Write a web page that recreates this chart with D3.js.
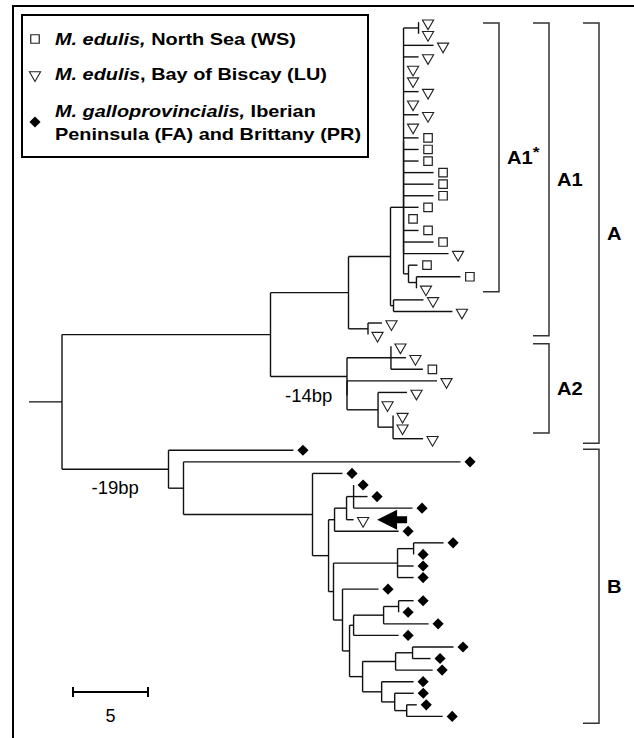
<!DOCTYPE html>
<html><head><meta charset="utf-8">
<script src="https://cdn.jsdelivr.net/npm/d3@7"></script>
<style>body{margin:0;background:#fff}svg{display:block}</style>
</head><body>
<svg id="chart" width="634" height="738"></svg>
<script>
// ---------------- DATA ----------------
// Tree topology with branch lengths (substitution units), split into named clades
const cladeA1star = "(((L1:0,L2:0):1,L3:2,L4:1,L5:0,L6:0,L7:1,L8:0,L9:1,L10:0,L11:1,L12:1,L13:1,L14:2,L15:2,L16:2,L17:1,L18:0,L19:1,L20:2,L21:3):0,(L22:0.6,(L23:2.93,L24:0):0.53):0.33)";
const cladeA1 = "((" + cladeA1star + ":0.87,(L25:2,L26:3.93):0.2):2.8,(L27:0.93,L28:0):1.3)";
const cladeA2 = "((L29:0,L30:1,L31:2.13):2.93,(L32:6,(L33:1.93,L34:0,(L35:0,L36:0,L37:2):1):2.07):0)A2";
const cladeA = "(" + cladeA1 + ":5.2," + cladeA2 + ":5.1)";
const subB1 = "(((L41:0,L42:0.93,L43:3.93):0.47,L44:0.47):0.8,L45:4.27)";
const subB2 = "(((L55:2.73,L56:1.2):1.13,L57:2.47):2.2,(L58:2.13,(L59:1.27,(L60:0.67,L61:2.4):0.8):0.87):1.27)";
const subB3 = "(((L46:2,L47:0):1.07,L48:1.07,L49:1.07):4.27,(L50:2.4,((((L51:1,L52:0):1,L53:3):2,L54:3):0.27," + subB2 + ":0.87):0.47):0.6)";
const cladeB = "(L38:8.33,(L39:18.47,(L40:2,(" + subB1 + ":0.4," + subB3 + ":0.33):1.07):8.6):1)B";
const treeNewick = "((" + cladeA + ":13.9," + cladeB + ":7.1):2.2)R;";

// group of each leaf, top to bottom
const leafGroups = [
  "LU","LU","LU","LU","LU","LU","LU","LU","LU","LU",
  "WS","WS","WS","WS","WS","WS","WS","WS","WS","WS",
  "LU","WS","WS","LU",
  "LU","LU","LU","LU","LU","LU","WS","LU","LU","LU","LU","LU","LU",
  "FA","FA","FA","FA","FA","FA","LU",
  "FA","FA","FA","FA","FA","FA","FA","FA","FA","FA","FA","FA","FA","FA","FA","FA","FA"
];
const legendGroups = ["WS","LU","FA"];
const legendSpecies = ["M. edulis,","M. edulis","M. galloprovincialis,"];
const legendRegions = [[" North Sea (WS)"],[", Bay of Biscay (LU)"],[" Iberian","Peninsula (FA) and Brittany (PR)"]];

// clade brackets: name, first leaf, last leaf (fractional leaf positions), nesting level
const cladeNames = ["A1","A1","A2","A","B"];
const cladeStars = [true,false,false,false,false];
const cladeFrom = [1.07,1.07,28.8,1.07,37.9];
const cladeTo = [24.3,28.1,36.5,37.4,61.6];
const cladeLevel = [0,1,1,2,2];

const branchLabelNodes = ["A2","B"];
const branchLabelTexts = ["-14bp","-19bp"];
const arrowLeaf = "L44";
const scaleBarValue = 5;

// ---------------- PARSE ----------------
function parseNewick(s){
  let i=0;
  function node(){
    const n={children:[]};
    if(s[i]==="("){
      i++;
      while(true){ n.children.push(node()); if(s[i]===","){i++;} else break; }
      i++; // ')'
    }
    let name="";
    while(i<s.length && !",():;".includes(s[i])) name+=s[i++];
    n.name=name;
    let len="";
    if(s[i]===":"){ i++; while(i<s.length && !",();".includes(s[i])) len+=s[i++]; }
    n.length=len?+len:0;
    return n;
  }
  return node();
}

const root = d3.hierarchy(parseNewick(treeNewick), d=>d.children.length?d.children:null);
root.eachBefore(n=>{ n.dist = n.parent ? n.parent.dist + n.data.length : 0; });
const leaves = root.leaves();

// ---------------- SCALES ----------------
const xScale = d3.scaleLinear().domain([0,30]).range([29,479]);
const yScale = d3.scaleLinear().domain([1,61]).range([22.2,716.4]);

leaves.forEach((l,i)=>{ l.idx=i+1; l.group=leafGroups[i]; l.y=yScale(i+1); });
root.eachAfter(n=>{
  n.x = xScale(n.dist);
  if(n.children){ n.y = (n.children[0].y + n.children[n.children.length-1].y)/2; }
});

const svg = d3.select("#chart");
const FONT = "'Liberation Sans', Arial, Helvetica, sans-serif";

// frame
svg.append("path").attr("d","M13,738V6H634").attr("fill","none").attr("stroke","#000").attr("stroke-width",2);

// ---------------- TREE ----------------
const g = svg.append("g").attr("fill","none").attr("stroke","#111").attr("stroke-width",1.4);
root.descendants().forEach(n=>{
  if(n.parent){
    g.append("path").attr("d",`M${n.parent.x},${n.y}H${n.x}`);
  }
  if(n.children && n.children.length>1){
    g.append("path").attr("d",`M${n.x},${n.children[0].y}V${n.children[n.children.length-1].y}`);
  }
});

// leaf symbols
const symOff = 9.5;
const sq = d3.symbol(d3.symbolSquare,72)();
const tri = d3.symbol(d3.symbolTriangle,54)();
const dia = d3.symbol(d3.symbolSquare,62)();
function drawSymbol(sel, group, x, y){
  if(group==="WS"){
    sel.append("path").attr("d",sq).attr("transform",`translate(${x},${y})`)
      .attr("fill","#fff").attr("stroke","#222").attr("stroke-width",1.2);
  } else if(group==="LU"){
    sel.append("path").attr("d",tri).attr("transform",`translate(${x},${y+1}) rotate(180)`)
      .attr("fill","#fff").attr("stroke","#222").attr("stroke-width",1.1);
  } else {
    sel.append("path").attr("d",dia).attr("transform",`translate(${x},${y}) rotate(45)`)
      .attr("fill","#000");
  }
}
const sg = svg.append("g");
leaves.forEach(l=>drawSymbol(sg, l.group, l.x+symOff, l.y));

// arrow
const aLeaf = leaves.find(l=>l.data.name===arrowLeaf);
const ax = aLeaf.x + symOff + 14, ay = aLeaf.y;
svg.append("path")
  .attr("d",`M${ax},${ay}L${ax+20},${ay-10}V${ay-3.5}H${ax+30}V${ay+3.5}H${ax+20}V${ay+10}Z`)
  .attr("fill","#000");

// branch labels
branchLabelNodes.forEach((name,i)=>{
  const n = root.descendants().find(d=>d.data.name===name);
  svg.append("text").attr("x",(n.parent.x+n.x)/2).attr("y",n.y+25)
    .attr("text-anchor","middle").attr("font-family",FONT).attr("font-size",18.5)
    .text(branchLabelTexts[i]);
});

// ---------------- BRACKETS ----------------
const bg = svg.append("g");
cladeNames.forEach((name,i)=>{
  const bx = 499 + cladeLevel[i]*50;
  const y0 = yScale(cladeFrom[i]), y1 = yScale(cladeTo[i]);
  bg.append("path").attr("d",`M${bx-16},${y0}H${bx}V${y1}H${bx-16}`)
    .attr("fill","none").attr("stroke","#333").attr("stroke-width",1.5);
  const t = bg.append("text")
    .attr("transform",`translate(${bx+8},${(y0+y1)/2+6.5}) scale(1.15,1)`)
    .attr("font-family",FONT).attr("font-weight","bold").attr("font-size",17.5)
    .text(name);
  if(cladeStars[i]){
    t.append("tspan").attr("dy",-7).attr("font-size",15).text("*");
  }
});

// ---------------- LEGEND ----------------
svg.append("rect").attr("x",22).attr("y",15).attr("width",346).attr("height",142)
  .attr("fill","none").attr("stroke","#000").attr("stroke-width",2);
const legendBase = [45,80,117];
const lg = svg.append("g");
legendGroups.forEach((grp,i)=>{
  const lines = legendRegions[i];
  const symY = lines.length>1 ? legendBase[i]+5 : legendBase[i]-6;
  drawSymbol(lg, grp, 35, symY);
  lines.forEach((line,j)=>{
    const t = lg.append("text")
      .attr("transform",`translate(55,${legendBase[i]+j*22.5}) scale(1.17,1)`)
      .attr("font-family",FONT).attr("font-weight","bold").attr("font-size",17);
    if(j===0){ t.append("tspan").attr("font-style","italic").text(legendSpecies[i]); }
    t.append("tspan").text(line);
  });
});

// ---------------- SCALE BAR ----------------
const pxPerUnit = xScale(1)-xScale(0);
const sbx = 73, sby = 692;
svg.append("path")
  .attr("d",`M${sbx},${sby}H${sbx+scaleBarValue*pxPerUnit}M${sbx},${sby-5}V${sby+5}M${sbx+scaleBarValue*pxPerUnit},${sby-5}V${sby+5}`)
  .attr("stroke","#000").attr("stroke-width",2).attr("fill","none");
svg.append("text").attr("x",sbx+scaleBarValue*pxPerUnit/2).attr("y",sby+30)
  .attr("text-anchor","middle").attr("font-family",FONT).attr("font-size",18)
  .text(scaleBarValue);
</script>
</body></html>
